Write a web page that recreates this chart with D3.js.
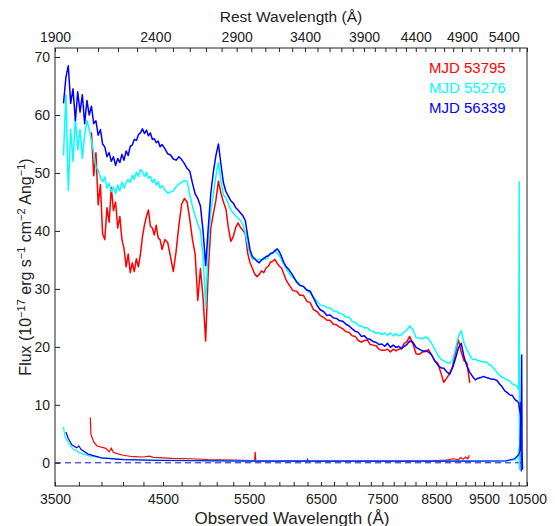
<!DOCTYPE html>
<html>
<head>
<meta charset="utf-8">
<script src="https://cdn.jsdelivr.net/npm/d3@7"></script>
<style>
  body { margin: 0; background: #fff; }
  text { font-family: "Liberation Sans", Arial, Helvetica, sans-serif; }
</style>
</head>
<body>
<svg id="chart" width="555" height="526"></svg>
<script>
// observed wavelength grid (Angstrom)
const wave = [
  3570,3590,3610,3630,3650,3670,3690,3710,3730,3750,
  3770,3790,3810,3830,3850,3870,3890,3910,3930,3950,
  3970,3990,4010,4030,4050,4070,4090,4110,4130,4150,
  4170,4190,4210,4230,4250,4270,4290,4310,4330,4350,
  4370,4390,4410,4430,4450,4470,4490,
  4520,4550,4580,4610,4640,4670,4700,4730,4760,4790,
  4820,4850,4880,4910,4940,4970,5000,5030,5060,5090,
  5120,5150,5180,5210,5240,5270,5300,5330,5360,5390,
  5420,5450,5480,5510,5540,5570,5600,5630,5660,5690,
  5720,5750,5780,5810,5840,5870,5900,5930,5960,5990,
  6040,6090,6140,6190,6240,6290,6340,6390,6440,6490,
  6540,6590,6640,6690,6740,6790,6840,6890,6940,6990,
  7040,7090,7140,7190,7240,7290,7340,7390,7440,7490,
  7540,7590,7640,7690,7740,7790,7840,7890,7940,7990,
  8050,8110,8170,8230,8290,8350,8410,8470,8530,8590,
  8650,8710,8770,8830,8890,8950,9010,9070,9130,9190,
  9250,9310,9370,9430,9490,9550,9610,9670,9730,9790,
  9850,9910,9970,10030,10090,10150,10210,10270,
  10300,10310,10320,10340,10360,10370,10380,10390
];

// MJD 53795 (SDSS, 3800-9200 A)
const fluxRed = [
  null,null,null,null,null,null,null,null,null,null,
  null,null,57,49.5,53.5,44.5,48,39.5,38.5,44,
  41.5,47.5,43.5,45,40.5,42.5,38.5,37,33.8,36,
  32.8,34.5,33,35.2,33.8,36,39,41,42.5,43.6,
  40.8,40.5,39.3,41,38.8,38.5,36.8,
  38.5,38,35.5,33,36.5,41,44.6,45.6,45,42,
  38.5,36,28,33.5,28.5,21,33,40.5,43,45.3,
  48.6,46.5,45,43.8,40.5,38.2,39,40.6,41.4,40.6,
  40.1,39.5,36.2,34.5,33.6,32.6,32.1,32.5,33.1,32.8,
  33.6,33.9,34.6,34.8,35.1,34.4,33.9,33.6,32.6,31.6,
  30.6,29.7,29.6,28.9,28.9,27.9,27.6,26.4,26.1,25.4,
  25.1,24.6,24.6,23.9,23.8,23.4,23.1,22.6,22.5,21.9,
  21.8,21.1,20.8,21.1,21.2,20.4,20.3,20.2,19.6,19.4,
  19.4,19.6,19.1,19.6,19.3,19.6,19.7,20.6,20.9,21.8,
  20.6,18.8,18.7,19.1,19.2,19.5,18.6,17.6,17.2,15.6,
  13.9,14.6,15.4,16.6,19,21.2,19.1,17.6,17.2,13.8,
  null,null,null,null,null,null,null,null,null,null,
  null,null,null,null,null,null,null,null,
  null,null,null,null,null,null,null,null
];

// MJD 55276 (BOSS)
const fluxCyan = [
  53,63.5,47,57.5,52,59.5,54,57.5,52.5,56.5,
  59,57.5,55.5,53.5,51,50.5,49.2,48.5,49.3,47.4,
  48.2,46.8,47.6,46.4,47.9,46.9,48.4,47.4,48.3,48.9,
  48.4,49.6,48.9,50.1,49.4,50.6,50.2,49.4,50.1,49.1,
  49.4,48.4,48.9,47.9,48.5,47.4,47.8,
  47.1,46.5,46.7,46.9,47.6,48.1,48.4,48.7,48.5,46.2,
  44.2,42.6,41.2,40.1,35.5,27,38,43.3,46.2,49.5,
  51.8,48.6,46.2,45.7,44.6,43.6,43.1,42.6,42.2,41.8,
  41,39.6,37.6,36.1,35.1,35.3,34.8,35.2,34.9,35.4,
  35.1,35.6,36,36.3,36.5,36.2,35.8,35,34.3,33.6,
  32.6,31.9,31.4,30.7,30.4,29.7,29.3,28.4,27.9,27.2,
  27.1,26.8,26.7,26.2,26.1,25.8,25.6,25.1,25.1,24.4,
  24.2,23.7,23.6,23.3,23.3,22.8,22.7,22.3,22.5,22.1,
  22.4,22,22.4,21.9,22.3,21.9,22.1,22.6,22.9,23.6,
  23,21.6,21.5,21.4,21.7,21.4,20.6,19.6,18.6,17.9,
  17.6,17.3,17.2,17.6,19.6,21.8,22.8,20.6,19.5,18.6,
  17.8,17.9,17.6,17.5,17.4,17.4,17,16.7,16.2,15.6,
  15.1,14.8,14.5,14.3,14.1,13.6,13.4,13.1,
  12.6,48.5,-1.2,null,null,null,null,null
];

// MJD 56339 (BOSS)
const fluxBlue = [
  62,66.5,68.5,62,64.5,59,64,60.5,63.5,58.5,
  62.5,60,61.5,58.5,59,56.5,57.5,55,54.5,52.8,
  53.5,52,52.8,51.3,52.5,51.8,53.2,52.2,53.8,53,
  54.6,54.8,55.8,55.6,56.6,56.9,57.6,56.8,57.4,56.4,
  56.9,55.8,55.9,55.2,55.5,54.5,54.9,
  54.2,53.3,53.1,52.4,52.2,52.8,52.3,51.6,50.8,50.3,
  48.2,46.4,45.6,44.3,40,34,40.5,46.5,50.2,53,
  55,51.5,48.3,46.8,46,45.2,44.8,44,43.6,43.1,
  42.6,41.8,39.2,36.8,35.6,35.2,34.8,34.5,35,35.2,
  35.6,35.7,36.1,36.2,36.6,36.9,36.4,35.6,34.6,33.9,
  33.2,32.3,31.2,30.6,30.4,29.8,29.6,28.4,27.2,26.4,
  26.1,25.4,25.5,25,24.9,24.5,24.4,23.9,23.6,23.1,
  22.7,22.5,21.8,21.9,21.4,21.3,20.9,20.8,20.4,20.5,
  20.1,20.6,19.9,20.3,19.9,20.1,19.7,20.1,20.4,21,
  20.8,19.9,19.6,19.3,19.3,19.1,18.6,17.6,16.9,16.4,
  16.3,15.7,15.3,16.4,18,19.8,20.6,18.2,16.7,15.6,
  14.9,14.3,14.6,14.7,14.9,14.7,14.6,14.4,14.4,14.2,
  13.6,13.1,12.4,12.1,11.7,11.6,10.9,10.6,
  10.3,9.7,9.2,8.5,6.5,18.6,2,-1.2
];

// noise spectra [wavelength, flux]
const errRed = [
  [3800,7.8],[3805,4.9],[3830,3.6],[3860,2.9],[3900,2.7],[3940,2.5],[3970,1.9],[3990,2.5],
  [4010,1.8],[4060,1.5],[4100,1.3],[4200,1.05],[4300,1.0],[4360,1.15],[4400,0.95],[4600,0.75],
  [4800,0.7],[5000,0.55],[5300,0.45],[5570,0.38],[5577,1.9],[5585,0.38],[6000,0.35],[6295,0.35],
  [6300,0.6],[6310,0.32],[7000,0.3],[8000,0.3],[8400,0.35],[8700,0.45],[8850,0.7],[8950,0.5],
  [9000,0.9],[9050,0.6],[9100,1.0],[9150,0.7],[9180,1.3]
];
const errCyan = [
  [3570,6.2],[3580,4.8],[3595,4.0],[3620,3.2],[3650,2.4],[3700,1.8],[3780,1.25],[3900,0.85],
  [4100,0.6],[4500,0.45],[5500,0.32],[7000,0.28],[9000,0.28],[10000,0.32],[10200,0.5],
  [10280,0.9],[10310,2.8],[10320,-1.2]
];
const errBlue = [
  [3590,5.3],[3610,4.2],[3640,3.1],[3680,2.6],[3700,2.9],[3720,2.3],[3780,1.5],[3900,0.85],
  [4100,0.55],[4500,0.4],[5500,0.3],[7000,0.28],[9000,0.28],[10000,0.35],[10200,0.7],
  [10300,1.4],[10330,2.2],[10350,10.5],[10360,-1.5]
];

const obsTicks = [3500, 4500, 5500, 6500, 7500, 8500, 9500, 10500];
const restTicks = [1900, 2400, 2900, 3400, 3900, 4400, 4900, 5400];
const yTicks = [0, 10, 20, 30, 40, 50, 60, 70];
const legendLabels = ["MJD 53795", "MJD 55276", "MJD 56339"];
const colors = ["#ff0000", "#00ffff", "#0000ff"];

const zFactor = 3500 / 1900; // observed / rest

const L = 55, R = 527, T = 48, B = 486;
const svg = d3.select("#chart");

const x = d3.scaleLog().domain([3500, 10500]).range([L, R]);
const xRest = d3.scaleLog().domain([3500 / zFactor, 10500 / zFactor]).range([L, R]);
const y = d3.scaleLinear().domain([-4, 71.55]).range([B, T]);

svg.append("clipPath").attr("id", "plotclip")
  .append("rect").attr("x", L).attr("y", T).attr("width", R - L).attr("height", B - T);

const plot = svg.append("g").attr("clip-path", "url(#plotclip)");

// zero line
plot.append("line")
  .attr("x1", x(3500)).attr("x2", x(10420))
  .attr("y1", y(0)).attr("y2", y(0))
  .attr("stroke", "#1010d0").attr("stroke-width", 1)
  .attr("stroke-dasharray", "6,4");

const line = d3.line()
  .defined(d => d[1] != null)
  .x(d => x(d[0]))
  .y(d => y(d[1]));

const spectra = [fluxRed, fluxCyan, fluxBlue];
const errs = [errRed, errCyan, errBlue];

spectra.forEach((f, i) => {
  plot.append("path")
    .datum(wave.map((w, k) => [w, f[k]]))
    .attr("d", line)
    .attr("fill", "none")
    .attr("stroke", colors[i])
    .attr("stroke-width", 1.5)
    .attr("stroke-linejoin", "round");
});

errs.forEach((e, i) => {
  plot.append("path")
    .datum(e)
    .attr("d", line)
    .attr("fill", "none")
    .attr("stroke", colors[i])
    .attr("stroke-width", 1.2);
});

// frame
svg.append("rect")
  .attr("x", L).attr("y", T).attr("width", R - L).attr("height", B - T)
  .attr("fill", "none").attr("stroke", "#222").attr("stroke-width", 1);

function styleAxis(g) {
  g.select(".domain").remove();
  g.selectAll("line").attr("stroke", "#222");
  g.selectAll("text")
    .attr("fill", "#222")
    .style("font-family", '"Liberation Sans", Arial, Helvetica, sans-serif')
    .style("font-size", "14px");
}

// bottom axis
svg.append("g").attr("transform", `translate(0,${B})`)
  .call(d3.axisBottom(x).tickValues(d3.range(3500, 10501, 200)).tickSize(-4).tickFormat(""))
  .call(styleAxis);
svg.append("g").attr("transform", `translate(0,${B})`)
  .call(d3.axisBottom(x).tickValues(obsTicks).tickSize(0).tickPadding(8).tickFormat(d3.format("d")))
  .call(styleAxis);

// top axis (rest frame)
svg.append("g").attr("transform", `translate(0,${T})`)
  .call(d3.axisTop(xRest).tickValues(d3.range(1900, 5701, 100)).tickSize(-4).tickFormat(""))
  .call(styleAxis);
svg.append("g").attr("transform", `translate(0,${T})`)
  .call(d3.axisTop(xRest).tickValues(restTicks).tickSize(0).tickPadding(6.5).tickFormat(d3.format("d")))
  .call(styleAxis);

// left axis
svg.append("g").attr("transform", `translate(${L},0)`)
  .call(d3.axisLeft(y).tickValues(yTicks).tickSize(-5).tickPadding(5))
  .call(g => g.selectAll(".tick text").attr("x", -5))
  .call(styleAxis);

// titles
svg.append("text")
  .attr("x", 291).attr("y", 22)
  .attr("text-anchor", "middle")
  .style("font-size", "15.5px").attr("fill", "#222")
  .text("Rest Wavelength (Å)");

svg.append("text")
  .attr("x", 292).attr("y", 523.5)
  .attr("text-anchor", "middle")
  .style("font-size", "17px").attr("fill", "#222")
  .text("Observed Wavelength (Å)");

const ylab = svg.append("text")
  .attr("transform", "translate(31,267) rotate(-90)")
  .attr("text-anchor", "middle")
  .style("font-size", "16px").attr("fill", "#222");
ylab.append("tspan").text("Flux (10");
ylab.append("tspan").attr("dy", -6).style("font-size", "11px").text("−17");
ylab.append("tspan").attr("dy", 6).text(" erg s");
ylab.append("tspan").attr("dy", -6).style("font-size", "11px").text("−1");
ylab.append("tspan").attr("dy", 6).text(" cm");
ylab.append("tspan").attr("dy", -6).style("font-size", "11px").text("−2");
ylab.append("tspan").attr("dy", 6).text(" Ang");
ylab.append("tspan").attr("dy", -6).style("font-size", "11px").text("−1");
ylab.append("tspan").attr("dy", 6).text(")");

// legend
legendLabels.forEach((lab, i) => {
  svg.append("text")
    .attr("x", 429).attr("y", 73 + i * 20)
    .style("font-size", "15px")
    .attr("fill", colors[i])
    .text(lab);
});
</script>
</body>
</html>
